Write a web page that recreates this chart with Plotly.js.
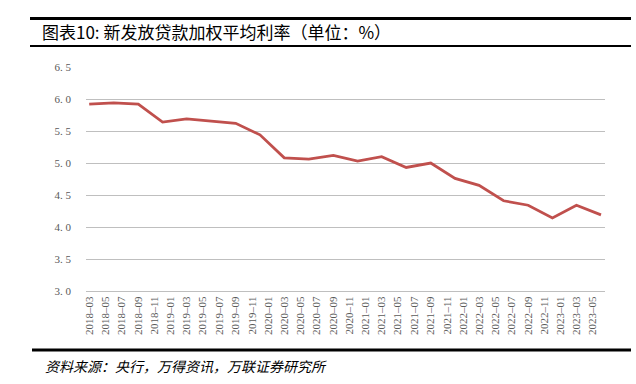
<!DOCTYPE html>
<html>
<head>
<meta charset="utf-8">
<script src="https://cdn.plot.ly/plotly-3.0.1.min.js"></script>
<style>html,body{margin:0;padding:0;background:#fff;}#chart{width:636px;height:384px;}</style>
</head>
<body>
<div id="chart"></div>
<script>
// Quarterly observation dates
const dates = ["2018-03-01","2018-06-01","2018-09-01","2018-12-01",
  "2019-03-01","2019-06-01","2019-09-01","2019-12-01",
  "2020-03-01","2020-06-01","2020-09-01","2020-12-01",
  "2021-03-01","2021-06-01","2021-09-01","2021-12-01",
  "2022-03-01","2022-06-01","2022-09-01","2022-12-01",
  "2023-03-01","2023-06-01"];
// Weighted average interest rate on new loans (%)
const rates = [5.92,5.94,5.92,5.64,5.69,5.66,5.62,5.44,5.08,5.06,5.12,5.03,
  5.10,4.93,5.00,4.76,4.65,4.41,4.34,4.14,4.34,4.19];
// X tick labels (every 2 months)
const xLabels = ["2018-03","2018-05","2018-07","2018-09","2018-11",
  "2019-01","2019-03","2019-05","2019-07","2019-09","2019-11",
  "2020-01","2020-03","2020-05","2020-07","2020-09","2020-11",
  "2021-01","2021-03","2021-05","2021-07","2021-09","2021-11",
  "2022-01","2022-03","2022-05","2022-07","2022-09","2022-11",
  "2023-01","2023-03","2023-05"];
// Y tick values and labels
const yVals = [3.0,3.5,4.0,4.5,5.0,5.5,6.0,6.5];
const yLabels = ["3. 0","3. 5","4. 0","4. 5","5. 0","5. 5","6. 0","6. 5"];

const titleText = "图表10: 新发放贷款加权平均利率（单位：%）";
const sourceText = "资料来源：央行，万得资讯，万联证券研究所";

const W = 636, H = 384;
const L = 86, R = 605, T = 67, B = 291;
const px = x => (x - L) / (R - L);
const py = y => (B - y) / (B - T);

const trace = {
  x: dates, y: rates, type: "scatter", mode: "lines",
  line: {color: "#C0504D", width: 2.8}, hoverinfo: "x+y"
};

const layout = {
  width: W, height: H,
  margin: {l: L, r: W - R, t: T, b: H - B, pad: 0},
  paper_bgcolor: "#fff", plot_bgcolor: "#fff",
  showlegend: false,
  title: {
    text: titleText, x: 42 / W, xanchor: "left", xref: "container",
    y: 1 - 33 / H, yanchor: "middle", yref: "container",
    font: {family: "Noto Sans CJK SC, sans-serif", size: 17, color: "#000"}
  },
  xaxis: {
    type: "date",
    range: ["2018-02-17", "2023-06-16"],
    tickmode: "array",
    tickvals: xLabels.map(s => s + "-01"),
    ticktext: xLabels.map(s => s.replace("-", "–")),
    tickangle: -90,
    tickfont: {family: "Liberation Serif, serif", size: 11, color: "#595959"},
    showgrid: false, zeroline: false,
    showline: true, linecolor: "#BFBFBF", linewidth: 1,
    ticks: "", ticklen: 0
  },
  yaxis: {
    range: [3.0, 6.5],
    tickmode: "array", tickvals: yVals, ticktext: yLabels,
    tickfont: {family: "Liberation Serif, serif", size: 11, color: "#595959"},
    showgrid: true, gridcolor: "#BFBFBF", gridwidth: 1,
    zeroline: false, showline: false, ticks: "",
    ticklabelstandoff: 14
  },
  shapes: [
    {type: "line", xref: "paper", yref: "paper", x0: px(30), x1: px(631), y0: py(18.5), y1: py(18.5),
     line: {color: "#000", width: 3}},
    {type: "line", xref: "paper", yref: "paper", x0: px(30), x1: px(631), y0: py(46), y1: py(46),
     line: {color: "#000", width: 2}},
    {type: "line", xref: "paper", yref: "paper", x0: px(32), x1: px(631), y0: py(350), y1: py(350),
     line: {color: "#000", width: 3}}
  ],
  annotations: [
    {text: sourceText, xref: "paper", yref: "paper", x: px(43), y: py(366),
     xanchor: "left", yanchor: "middle", showarrow: false,
     font: {family: "Noto Sans CJK SC, sans-serif", size: 14, color: "#000", style: "italic"}}
  ]
};

Plotly.newPlot("chart", [trace], layout, {displayModeBar: false, staticPlot: true});
</script>
</body>
</html>
